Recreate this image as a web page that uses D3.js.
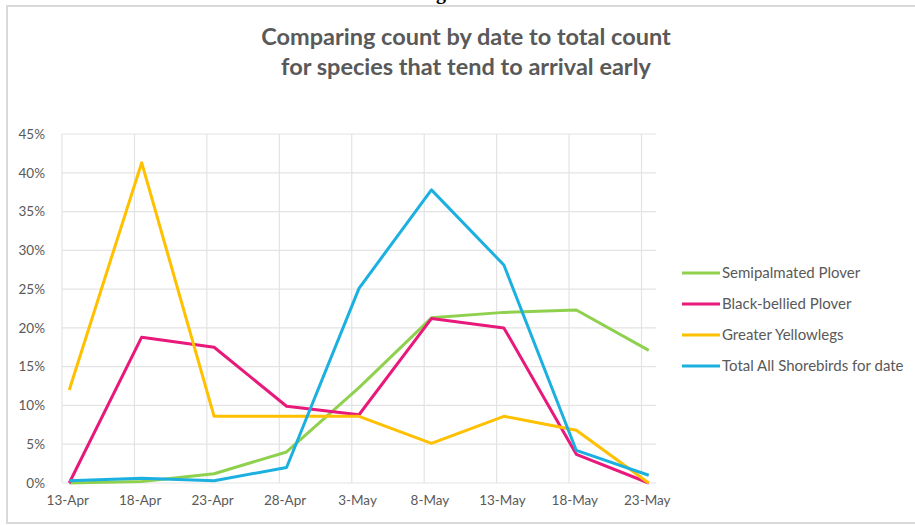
<!DOCTYPE html>
<html><head><meta charset="utf-8">
<script src="https://cdn.jsdelivr.net/npm/d3@7"></script>
<style>body{margin:0;background:#fff;} text{font-family:Lato,"Open Sans",sans-serif;}</style>
</head><body>
<svg id="c" width="915" height="525"></svg>
<script>
const dates = ["13-Apr","18-Apr","23-Apr","28-Apr","3-May","8-May","13-May","18-May","23-May"];
const semipalmated = [0.0, 0.2, 1.2, 4.0, 12.3, 21.3, 22.0, 22.3, 17.1];
const blackBellied = [0.0, 18.8, 17.5, 9.9, 8.8, 21.2, 20.0, 3.7, 0.0];
const yellowlegs = [12.0, 41.3, 8.6, 8.6, 8.6, 5.1, 8.6, 6.8, 0.0];
const totalAll = [0.3, 0.6, 0.3, 2.0, 25.1, 37.8, 28.1, 4.2, 1.0];
const yTicks = [0,5,10,15,20,25,30,35,40,45];
const seriesNames = ["Semipalmated Plover","Black-bellied Plover","Greater Yellowlegs","Total All Shorebirds for date"];
const seriesColors = ["#8fd14f","#e8197b","#ffc000","#1cb0e0"];
const seriesData = [semipalmated, blackBellied, yellowlegs, totalAll];

const svg = d3.select("#c");
const L=62,R=656,T=134,B=483;
const x = d3.scaleLinear().domain([-0.1, dates.length-0.9]).range([L,R]);
const y = d3.scaleLinear().domain([0,45]).range([B,T]);

// frame
svg.append("rect").attr("x",7).attr("y",6).attr("width",915).attr("height",517)
  .attr("fill","#fff").attr("stroke","#d9d9d9").attr("stroke-width",2);
// glyph cut off at the top edge in the source image
svg.append("text").attr("x",441).attr("y",-1.5).attr("text-anchor","middle")
  .style("font-family","'Liberation Serif',serif").style("font-weight","bold").style("font-size","20px").attr("fill","#000").text("g");

// title
const title = svg.append("text").attr("text-anchor","middle").attr("fill","#595959")
  .style("font-size","23.5px").style("font-weight","bold");
title.append("tspan").attr("x",466).attr("y",45).text("Comparing count by date to total count");
title.append("tspan").attr("x",466).attr("y",75).text("for species that tend to arrival early");

// gridlines
const g = svg.append("g");
g.selectAll(".hg").data(yTicks).join("line")
  .attr("x1",L).attr("x2",R).attr("y1",d=>y(d)).attr("y2",d=>y(d))
  .attr("stroke","#e3e3e3").attr("stroke-width",1.2);
g.selectAll(".vg").data(d3.range(dates.length)).join("line")
  .attr("x1",d=>x(d-0.1)).attr("x2",d=>x(d-0.1)).attr("y1",T).attr("y2",B)
  .attr("stroke","#e3e3e3").attr("stroke-width",1.2);

// axes labels
const yAxis = d3.axisLeft(y).tickValues(yTicks).tickFormat(d=>d+"%").tickSize(0).tickPadding(0);
const ya = svg.append("g").attr("transform",`translate(45,0)`).call(yAxis);
ya.select(".domain").remove();
ya.selectAll("text").attr("fill","#595959").style("font-size","13.5px").style("font-family","Lato,sans-serif");

const xAxis = d3.axisBottom(x).tickValues(d3.range(dates.length)).tickFormat(i=>dates[i]).tickSize(0).tickPadding(0);
const xa = svg.append("g").attr("transform",`translate(-2,${B+12})`).call(xAxis);
xa.select(".domain").remove();
xa.selectAll("text").attr("fill","#595959").style("font-size","13.5px").style("font-family","Lato,sans-serif");

// lines
const line = d3.line().x((d,i)=>x(i)).y(d=>y(d));
seriesData.forEach((s,k)=>{
  svg.append("path").datum(s).attr("d",line).attr("fill","none")
    .attr("stroke",seriesColors[k]).attr("stroke-width",3).attr("stroke-linejoin","round");
});

// legend
const leg = svg.append("g");
seriesNames.forEach((n,k)=>{
  const yy = 273 + k*31;
  leg.append("line").attr("x1",682).attr("x2",720).attr("y1",yy).attr("y2",yy)
    .attr("stroke",seriesColors[k]).attr("stroke-width",3);
  leg.append("text").attr("x",722).attr("y",yy+5).attr("fill","#595959")
    .style("font-size","15px").text(n);
});
</script>
</body></html>
